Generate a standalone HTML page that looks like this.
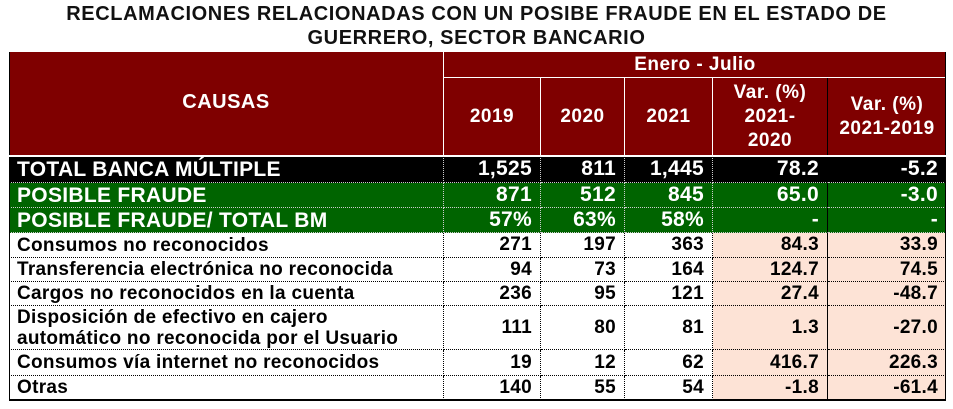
<!DOCTYPE html>
<html><head><meta charset="utf-8"><style>
body{margin:0;width:953px;height:409px;background:#fff;position:relative;overflow:hidden;font-family:"Liberation Sans",Arial,sans-serif;font-weight:bold}
.t{position:absolute;left:0;width:953px;text-align:center;font-size:20px;letter-spacing:0.6px;color:#111}
.c{position:absolute;box-sizing:border-box;display:flex;align-items:center;font-size:18px;white-space:nowrap;overflow:hidden;letter-spacing:0.3px}
.r{justify-content:flex-end;padding-right:8px}
.l{padding-left:8px}
.h{background:#7f0000;color:#fff;justify-content:center;text-align:center;line-height:24px;border-right:1.5px solid #fff;font-size:19px;letter-spacing:0.5px}
</style></head><body>
<div class="t" style="top:3px">RECLAMACIONES RELACIONADAS CON UN POSIBE FRAUDE EN EL ESTADO DE</div>
<div class="t" style="top:27px">GUERRERO, SECTOR BANCARIO</div>
<div id="tb"></div>
<script>
const X=[9,444,541,625,713,828,946];
let h='';
function cell(x0,x1,y0,y1,txt,cls,style){h+=`<div class="c ${cls}" style="left:${x0}px;top:${y0}px;width:${x1-x0}px;height:${y1-y0}px;${style||''}">${txt}</div>`;}
cell(9,444,52,156,'CAUSAS','h','padding-bottom:4px;font-size:20px');
cell(444,946,52,78,'Enero - Julio','h','border-bottom:1.5px solid #fff;border-right:none');
const hd=['2019','2020','2021','Var. (%)<br>2021-<br>2020','Var. (%)<br>2021-2019'];
for(let i=0;i<5;i++)cell(X[i+1],X[i+2],78,156,hd[i],'h',i==4?'border-right:none':(i==3?'border-right:1.5px solid #000':''));
const rows=[
[156,183,'TOTAL BANCA MÚLTIPLE',['1,525','811','1,445','78.2','-5.2'],'#000','#fff','#000',21],
[183,208,'POSIBLE FRAUDE',['871','512','845','65.0','-3.0'],'#006400','#fff','#006400',21],
[208,233,'POSIBLE FRAUDE/ TOTAL BM',['57%','63%','58%','-','-'],'#006400','#fff','#006400',21],
[233,258,'Consumos no reconocidos',['271','197','363','84.3','33.9'],'#fff','#000','#fde3d6',19],
[258,282,'Transferencia electrónica no reconocida',['94','73','164','124.7','74.5'],'#fff','#000','#fde3d6',19],
[282,306,'Cargos no reconocidos en la cuenta',['236','95','121','27.4','-48.7'],'#fff','#000','#fde3d6',19],
[306,350,'Disposición de efectivo en cajero<br>automático no reconocida por el Usuario',['111','80','81','1.3','-27.0'],'#fff','#000','#fde3d6',19],
[350,376,'Consumos vía internet no reconocidos',['19','12','62','416.7','226.3'],'#fff','#000','#fde3d6',19],
[376,400,'Otras',['140','55','54','-1.8','-61.4'],'#fff','#000','#fde3d6',19]];
for(const [y0,y1,lab,v,bg,fg,bg2,fs] of rows){
 const bd=(fg=='#fff')?'#ccc':'#000';
 cell(9,444,y0,y1,lab,'l',`background:${bg};color:${fg};font-size:${fs}px;line-height:21px;border-bottom:1px dotted ${bd};border-right:1px dotted ${bd}`);
 for(let i=0;i<5;i++){
  const b=i>=3?bg2:bg;
  const br=i==3?'1.5px solid #000':(i==4?'none':`1px dotted ${bd}`);
  cell(X[i+1],X[i+2],y0,y1,v[i],'r',`background:${b};color:${fg};font-size:${fs}px;border-bottom:1px dotted ${bd};border-right:${br}`);
 }
}
h+='<div style="position:absolute;left:9px;top:399px;width:937px;height:2px;background:#000"></div>';
h+='<div style="position:absolute;left:9px;top:52px;width:1px;height:349px;background:#000"></div>';
h+='<div style="position:absolute;left:945px;top:52px;width:1px;height:349px;background:#000"></div>';
h+='<div style="position:absolute;left:9px;top:155px;width:937px;height:2px;background:#fff"></div>';
document.getElementById('tb').innerHTML=h;
</script>
</body></html>
